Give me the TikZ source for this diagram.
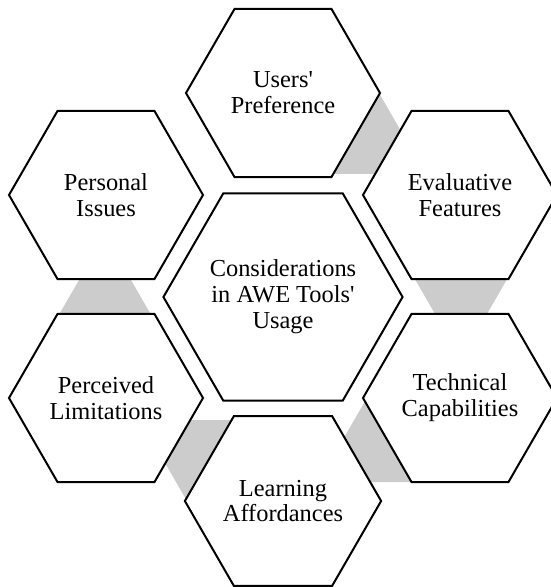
\documentclass[tikz,border=0pt]{standalone}
\usepackage{fontspec}
\setmainfont{Liberation Serif}
\usetikzlibrary{shapes.geometric}

\tikzset{
  hexa/.style={draw=black, line width=2bp, fill=white, regular polygon, regular polygon sides=6,
    minimum size=194bp, inner sep=0pt, align=center, font=\fontsize{24.5}{26}\selectfont},
  bighexa/.style={hexa, minimum size=236bp},
  link/.style={fill=black!20}
}

\begin{document}
\begin{tikzpicture}[x=1bp,y=1bp]
	\clip (-283,-290) rectangle (268,297);

	% Links between neighbours
		\foreach \r in {60,0,-60,-120,-180}
			\fill[link, rotate=\r] (178,-62) -- (84.5,100) -- (271.5,100) -- cycle;

	% Middle
		\node[bighexa] (usage) at (0,0) {Considerations\\in AWE Tools\textquotesingle\\Usage};

	% Around
		\node[hexa] (pref) at (0,204) {Users\textquotesingle\\Preference};
		\node[hexa] (eval) at (177,102) {Evaluative\\Features};
		\node[hexa] (tech) at (177,-101) {Technical\\Capabilities};
		\node[hexa] (learn) at (0,-204) {Learning\\Affordances};
		\node[hexa] (limit) at (-177,-101) {Perceived\\Limitations};
		\node[hexa] (issue) at (-177,102) {Personal\\Issues};
\end{tikzpicture}
\end{document}
